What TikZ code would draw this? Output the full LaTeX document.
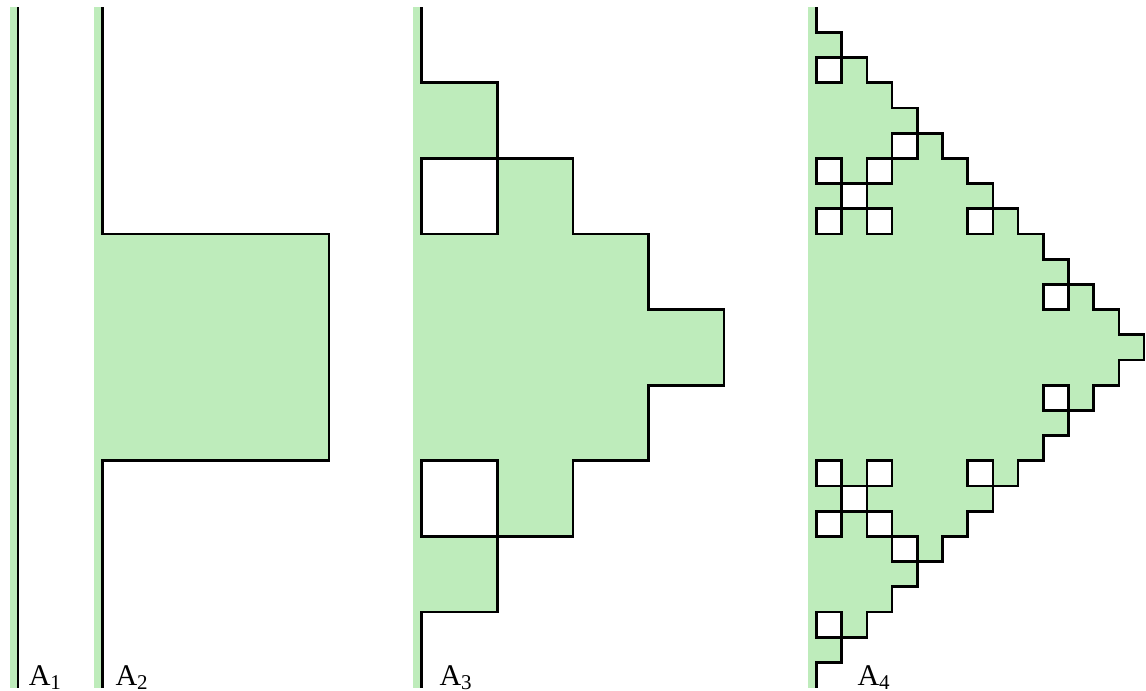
\documentclass[tikz,border=0pt]{standalone}
\usepackage{fontspec}
\setmainfont{Liberation Serif}
\usepackage{tikz}
\usetikzlibrary{decorations.fractals}
\definecolor{kochgreen}{RGB}{190,236,187}
\tikzset{curve/.style={draw=black, line width=1pt},
	strip/.style={fill=kochgreen},
	lbl/.style={anchor=base west, inner sep=0pt, font=\fontsize{11.3}{13}\selectfont}}

\begin{document}
\begin{tikzpicture}[decoration={Koch curve type 1}]
\useasboundingbox (0,0) rectangle (15.159,-9.127);
% A_1
\fill[strip] (0.128,-0.095) rectangle (0.248,-9.095);
\draw[curve] (0.238,-0.095) -- (0.238,-9.095);
% A_2
\fill[strip] (1.243,-0.095) rectangle (1.363,-9.095);
\fill[strip] decorate{(1.353,-0.095) -- (1.353,-9.095)};
\draw[curve] decorate{(1.353,-0.095) -- (1.353,-9.095)};
% A_3
\fill[strip] (5.468,-0.095) rectangle (5.588,-9.095);
\fill[strip] decorate{decorate{(5.578,-0.095) -- (5.578,-9.095)}};
\draw[curve] decorate{decorate{(5.578,-0.095) -- (5.578,-9.095)}};
% A_4
\fill[strip] (10.69,-0.095) rectangle (10.81,-9.095);
\fill[strip] decorate{decorate{decorate{(10.80,-0.095) -- (10.80,-9.095)}}};
\draw[curve] decorate{decorate{decorate{(10.80,-0.095) -- (10.80,-9.095)}}};
% labels
\node[lbl] (a1) at (0.374,-9.061) {A\textsubscript{1}};
\node[lbl] (a2) at (1.521,-9.061) {A\textsubscript{2}};
\node[lbl] (a3) at (5.807,-9.061) {A\textsubscript{3}};
\node[lbl] (a4) at (11.336,-9.061) {A\textsubscript{4}};
\end{tikzpicture}
\end{document}
